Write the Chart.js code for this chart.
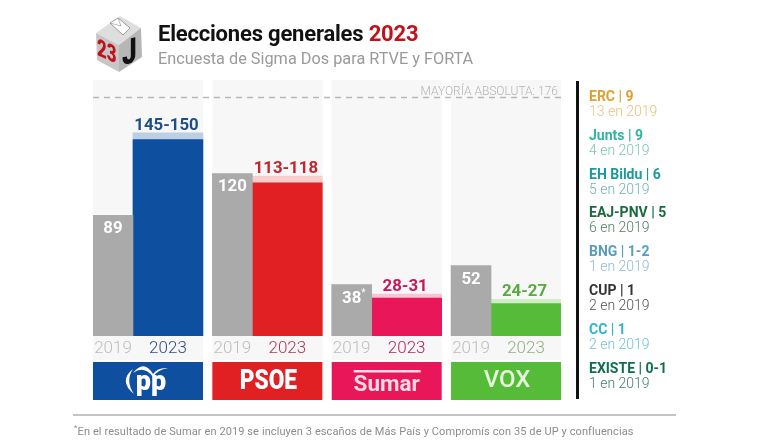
<!DOCTYPE html>
<html lang="es">
<head>
<meta charset="utf-8">
<title>Elecciones generales 2023</title>
<script src="https://cdn.jsdelivr.net/npm/chart.js@4"></script>
<style>
  html, body { margin: 0; padding: 0; background: #fff; }
  body { position: relative; width: 767px; height: 445px; overflow: hidden; font-family: Roboto, sans-serif; }
  canvas { position: absolute; left: 0; top: 0; }
  #icon { position: absolute; left: 92px; top: 14px; }
  #title { position: absolute; left: 158px; top: 21px; font-size: 22px; font-weight: 700; color: #111; white-space: nowrap; letter-spacing: -0.2px; }
  #title span { color: #c1121c; }
  #subtitle { position: absolute; left: 158px; top: 49px; font-size: 16.3px; color: #9a9a9a; white-space: nowrap; }
  #rule { position: absolute; left: 576px; top: 81px; width: 3px; height: 318px; background: #111; }
  #side div { position: absolute; left: 589px; white-space: nowrap; line-height: 14px; }
  #side b { display: block; font-size: 14px; font-weight: 700; }
  #side span { display: block; font-size: 14px; font-weight: 300; margin-top: 1px; }
  #footline { position: absolute; left: 73px; top: 414px; width: 603px; height: 2px; background: #c4c4c4; }
  #foot { position: absolute; left: 74px; top: 423px; font-size: 11px; color: #8c8c8c; white-space: nowrap; letter-spacing: 0.1px; }
</style>
</head>
<body>
<canvas id="chart" width="767" height="445"></canvas>

<svg id="icon" width="52" height="60" viewBox="0 0 52 60">
  <polygon points="28,2 49,14 27,31 4,19" fill="#dedede"/>
  <polygon points="4,19 27,31 27,58 5,46" fill="#c6c6c6"/>
  <polygon points="27,31 49,14 50,43 27,58" fill="#b6b6b6"/>
  <polygon points="18,9 26,4 38,14 31,21" fill="#fff" stroke="#777" stroke-width="0.7"/>
  <polyline points="18,9 29,12 26,4" fill="none" stroke="#999" stroke-width="0.7"/>
  <text transform="translate(5,41) skewY(24) scale(0.8,1.15)" font-family="Roboto" font-weight="900" font-size="21" fill="#c1121c">23</text>
  <text transform="translate(30,51) skewY(-12) scale(0.75,1)" font-family="Roboto" font-weight="900" font-size="35" fill="#111">J</text>
</svg>
<div id="title">Elecciones generales <span>2023</span></div>
<div id="subtitle">Encuesta de Sigma Dos para RTVE y FORTA</div>
<div id="rule"></div>
<div id="side"></div>
<div id="footline"></div>
<div id="foot"><sup style="font-size:8px">*</sup>En el resultado de Sumar en 2019 se incluyen 3 escaños de Más País y Compromís con 35 de UP y confluencias</div>

<script>
// Seats per party
const parties = ["PP", "PSOE", "Sumar", "VOX"];
const seats2019 = [89, 120, 38, 52];
const seats2023Low = [145, 113, 28, 24];
const seats2023High = [150, 118, 31, 27];
const labels2023 = ["145-150", "113-118", "28-31", "24-27"];
const notes2019 = ["", "", "*", ""];
const years = ["2019", "2023"];
const majority = 176;

// Smaller parties in the side list
const otherNames = ["ERC", "Junts", "EH Bildu", "EAJ-PNV", "BNG", "CUP", "CC", "EXISTE"];
const otherSeats = ["9", "9", "6", "5", "1-2", "1", "1", "0-1"];
const otherPrev = ["13", "4", "5", "6", "1", "2", "2", "1"];

// Colours
const strong = ["#0f4fa0", "#e12024", "#e9165a", "#57bb3a"];
const pale = ["#bccfe4", "#f8cdcd", "#f9c4d6", "#cfeec5"];
const labelColors = ["#1d4f86", "#c8232c", "#c21a5a", "#55ac3a"];
const yearColors = ["#2f4f7c", "#a93a50", "#b8215f", "#8fb27d"];
const otherColors = ["#e0a030", "#2fb5a0", "#1b9a9e", "#1a6b3c", "#5a9cc0", "#333333", "#2fb3cf", "#0f6e50"];
const otherSubColors = ["#e8c27a", "#7fc4b8", "#6fb3b3", "#4f7f62", "#8dbbd4", "#555555", "#6fc3d6", "#3f7f6c"];

// The x axis runs in pixels-like units so the two bar widths stay simple
const pitch = 119.4, narrow = 40, wide = 70;
const x2019 = i => i * pitch + narrow / 2;
const x2023 = i => i * pitch + narrow + wide / 2;

document.getElementById("side").innerHTML = otherNames.map((name, i) =>
  `<div style="top:${89 + i * 38.8}px"><b style="color:${otherColors[i]}">${name} | ${otherSeats[i]}</b>` +
  `<span style="color:${otherSubColors[i]}">${otherPrev[i]} en 2019</span></div>`
).join("");

// beforeDraw, so the year ticks end up on top of the panels
const panelsPlugin = {
  id: "panels",
  beforeDraw(chart) {
    const { ctx, scales: { x }, chartArea } = chart;
    ctx.save();
    ctx.fillStyle = "#f7f7f8";
    parties.forEach((_, i) => {
      const left = x.getPixelForValue(i * pitch);
      ctx.fillRect(left, chartArea.top, narrow + wide, chartArea.height + 24);
    });
    ctx.restore();
  }
};

function drawLogo(ctx, i, left, top, w, h) {
  const cx = left + w / 2, cy = top + h / 2;
  ctx.fillStyle = strong[i];
  ctx.fillRect(left, top, w, h);
  ctx.fillStyle = "#fff";
  ctx.textAlign = "center";
  ctx.textBaseline = "middle";
  if (parties[i] === "PP") {
    ctx.font = "900 27px Roboto";
    ctx.fillText("pp", cx + 3, cy + 2);
    // crescent on the left
    ctx.beginPath();
    ctx.moveTo(cx - 15, cy - 12);
    ctx.quadraticCurveTo(cx - 30, cy, cx - 14, cy + 13);
    ctx.quadraticCurveTo(cx - 23, cy, cx - 15, cy - 12);
    ctx.fill();
    // gull on top
    ctx.beginPath();
    ctx.moveTo(cx - 15, cy - 8);
    ctx.quadraticCurveTo(cx - 4, cy - 22, cx + 5, cy - 7);
    ctx.quadraticCurveTo(cx + 10, cy - 14, cx + 20, cy - 13);
    ctx.quadraticCurveTo(cx + 9, cy - 11, cx + 5, cy - 4);
    ctx.quadraticCurveTo(cx - 4, cy - 16, cx - 15, cy - 8);
    ctx.fill();
  } else if (parties[i] === "PSOE") {
    ctx.save();
    ctx.translate(cx + 1, cy + 1);
    ctx.scale(0.81, 1);
    ctx.font = "900 28px Roboto";
    ctx.fillText("PSOE", 0, 0);
    ctx.restore();
  } else if (parties[i] === "Sumar") {
    ctx.fillStyle = "#fbdbe6";
    ctx.fillRect(cx - 33, top + 8, 67, 2.5);
    ctx.font = "700 22.5px Roboto";
    ctx.fillText("Sumar", cx, cy + 4);
  } else {
    ctx.fillStyle = "#e4f6dc";
    ctx.font = "500 24px Roboto";
    ctx.fillText("VOX", cx + 1, cy);
  }
}

const labelsPlugin = {
  id: "labels",
  afterDatasetsDraw(chart) {
    const { ctx, scales: { x, y }, chartArea } = chart;
    ctx.save();
    parties.forEach((_, i) => {
      ctx.textAlign = "center";
      ctx.textBaseline = "alphabetic";
      // 2019, inside the grey bar
      const gx = x.getPixelForValue(x2019(i));
      ctx.fillStyle = "#fff";
      ctx.font = "700 16.8px Roboto";
      ctx.fillText(String(seats2019[i]), gx, y.getPixelForValue(seats2019[i]) + 18);
      if (notes2019[i]) {
        const w = ctx.measureText(String(seats2019[i])).width;
        ctx.font = "400 10px Roboto";
        ctx.fillText(notes2019[i], gx + w / 2 + 2, y.getPixelForValue(seats2019[i]) + 11);
      }
      // 2023 range, above the pale band
      ctx.fillStyle = labelColors[i];
      ctx.font = "700 16.8px Roboto";
      ctx.fillText(labels2023[i], x.getPixelForValue(x2023(i)) - 1.5, y.getPixelForValue(seats2023High[i]) - 3);
      drawLogo(ctx, i, x.getPixelForValue(i * pitch), chartArea.bottom + 26, narrow + wide, 38);
    });
    // Majority caption
    ctx.fillStyle = "#b4b4b4";
    ctx.font = "300 12px Roboto";
    ctx.textAlign = "right";
    ctx.textBaseline = "alphabetic";
    ctx.fillText("MAYORÍA ABSOLUTA: " + majority, x.right - 3, y.getPixelForValue(majority) - 3);
    ctx.restore();
  }
};

new Chart(document.getElementById("chart").getContext("2d"), {
  type: "bar",
  data: {
    datasets: [
      {
        label: "Mayoría absoluta",
        type: "line",
        data: [{ x: 0, y: majority }, { x: 3 * pitch + narrow + wide, y: majority }],
        borderColor: "#b8b8b8",
        borderWidth: 1.5,
        borderDash: [6, 5],
        pointRadius: 0
      },
      {
        label: "2019",
        data: seats2019.map((v, i) => ({ x: x2019(i), y: v })),
        backgroundColor: "#aaaaaa",
        barThickness: narrow,
        grouped: false
      },
      {
        label: "2023 mínimo",
        data: seats2023Low.map((v, i) => ({ x: x2023(i), y: v })),
        backgroundColor: strong,
        barThickness: wide,
        grouped: false
      },
      {
        label: "2023 horquilla",
        data: seats2023High.map((v, i) => ({ x: x2023(i), y: [seats2023Low[i], v] })),
        backgroundColor: pale,
        barThickness: wide,
        grouped: false
      }
    ]
  },
  options: {
    responsive: false,
    animation: false,
    layout: { padding: { left: 93, right: 206, top: 80, bottom: 81 } },
    plugins: { legend: { display: false }, tooltip: { enabled: false } },
    scales: {
      x: {
        type: "linear",
        offset: false,
        min: 0,
        max: 3 * pitch + narrow + wide,
        grid: { display: false, drawTicks: false },
        border: { display: false },
        afterBuildTicks(scale) {
          scale.ticks = parties.flatMap((_, i) => [{ value: x2019(i) }, { value: x2023(i) }]);
        },
        afterFit(scale) { scale.height = 28; },
        ticks: {
          autoSkip: false,
          maxRotation: 0,
          padding: 3,
          font: { family: "Roboto", size: 17, weight: 300 },
          callback: (value, index) => years[index % 2],
          color: ctx => ctx.index % 2 ? yearColors[(ctx.index - 1) / 2] : "#bdbdbd"
        }
      },
      y: { display: false, min: 0, max: 189 }
    }
  },
  plugins: [panelsPlugin, labelsPlugin]
});
</script>
</body>
</html>
